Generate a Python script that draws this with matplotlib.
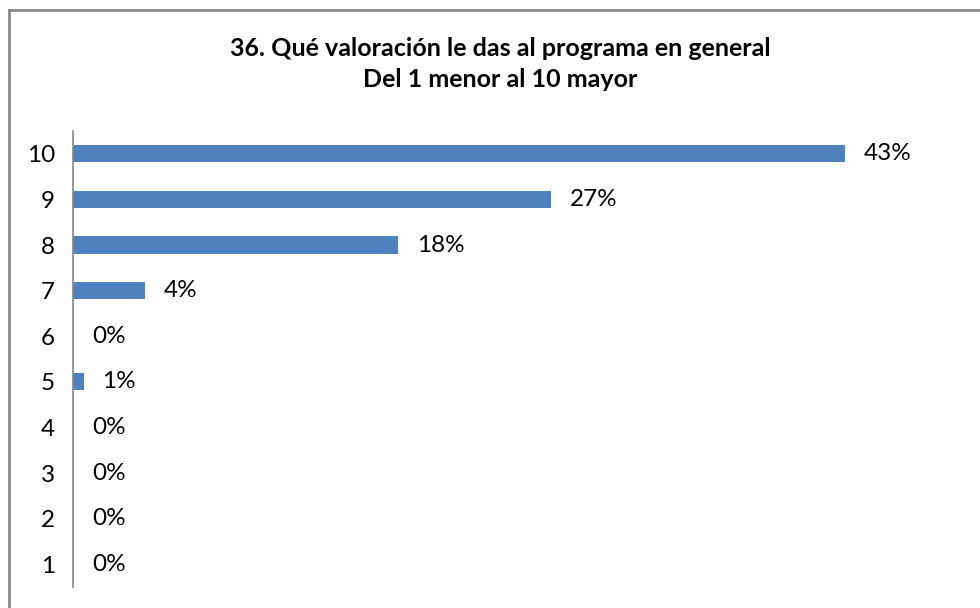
import matplotlib

matplotlib.use("Agg")
from matplotlib import pyplot as plt
from matplotlib.lines import Line2D

categories = ["1", "2", "3", "4", "5", "6", "7", "8", "9", "10"]
values = [0.0, 0.0, 0.0, 0.0, 0.6, 0.0, 4.0, 18.1, 26.6, 43.0]
labels = ["0%", "0%", "0%", "0%", "1%", "0%", "4%", "18%", "27%", "43%"]
title = "36. Qué valoración le das al programa en general\nDel 1 menor al 10 mayor"

plt.rcParams["font.family"] = ["Lato", "DejaVu Sans"]

fig = plt.figure(figsize=(9.8, 6.08), dpi=100)
ax = fig.add_axes([73 / 980, 1 - 587 / 608, 898 / 980, 456 / 608])

pos = list(range(len(categories)))
ax.barh(pos, values, height=0.38, color="#4F81BD")
for y, v, lab in zip(pos, values, labels):
    ax.annotate(lab, (v, y), xytext=(13.5, 0), textcoords="offset points",
                ha="left", va="center", fontsize=17.5, color="black")

ax.set_xlim(0, 50)
ax.set_ylim(-0.5, len(categories) - 0.5)
ax.set_yticks(pos)
ax.set_yticklabels(categories, fontsize=17.5)
ax.tick_params(axis="y", length=0, pad=13)
ax.set_xticks([])
for side in ("top", "right", "bottom"):
    ax.spines[side].set_visible(False)
ax.spines["left"].set_color("#868686")
ax.spines["left"].set_linewidth(1.2)

fig.text(500 / 980, 1 - 64 / 608, title, ha="center", va="center",
         fontsize=18, fontweight="bold", linespacing=1.4)

# chart frame (only top and left edges visible in the crop)
fig.add_artist(Line2D([9 / 980, 9 / 980], [0, 1 - 10 / 608], transform=fig.transFigure,
                      color="#888888", linewidth=2))
fig.add_artist(Line2D([9 / 980, 1], [1 - 10 / 608, 1 - 10 / 608], transform=fig.transFigure,
                      color="#888888", linewidth=2))

fig.savefig("out.png", dpi=100)
plt.close(fig)
